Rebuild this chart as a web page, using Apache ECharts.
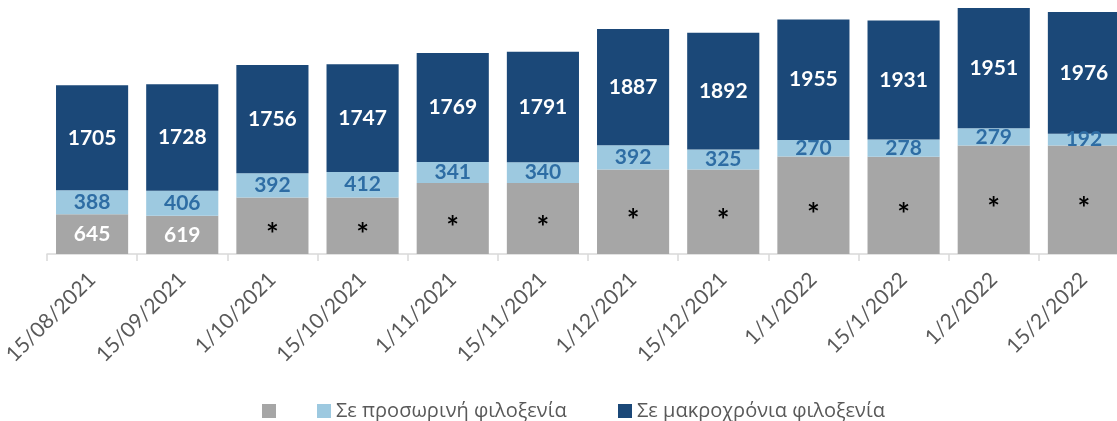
<!DOCTYPE html>
<html>
<head>
<meta charset="utf-8">
<script src="https://cdn.jsdelivr.net/npm/echarts@6/dist/echarts.min.js"></script>
<style>
html,body{margin:0;padding:0;background:#fff;}
#chart{width:1117px;height:421px;}
</style>
</head>
<body>
<div id="chart"></div>
<script>
var categories = ['15/08/2021','15/09/2021','1/10/2021','15/10/2021','1/11/2021','15/11/2021','1/12/2021','15/12/2021','1/1/2022','15/1/2022','1/2/2022','15/2/2022'];
// grey series: only first two values are published; the rest are shown as "*" (heights)
var greyValues = [645, 619, 918, 918, 1150, 1150, 1370, 1370, 1580, 1578, 1760, 1758];
var greyLabels = ['645','619','*','*','*','*','*','*','*','*','*','*'];
var tempValues = [388, 406, 392, 412, 341, 340, 392, 325, 270, 278, 279, 192];
var longValues = [1705, 1728, 1756, 1747, 1769, 1791, 1887, 1892, 1955, 1931, 1951, 1976];
var seriesNames = [' ', 'Σε προσωρινή φιλοξενία', 'Σε μακροχρόνια φιλοξενία'];

var chart = echarts.init(document.getElementById('chart'), null, {renderer: 'canvas'});
var numFont = 'Lato, "Open Sans", sans-serif';
var legendCommon = {
  top: 401, itemWidth: 14, itemHeight: 14, icon: 'rect', itemGap: 0, itemTextGap: 4, padding: 0,
  textStyle: {color: '#595959', fontSize: 20, fontFamily: '"Open Sans", "Noto Sans", sans-serif'},
  selectedMode: false
};
chart.setOption({
  animation: false,
  backgroundColor: '#ffffff',
  grid: {left: 47, width: 1082, top: 0, height: 254, outerBoundsMode: 'none', containLabel: false},
  legend: [
    Object.assign({}, legendCommon, {left: 262, data: [seriesNames[0]]}),
    Object.assign({}, legendCommon, {left: 317, data: [seriesNames[1]]}),
    Object.assign({}, legendCommon, {left: 618, data: [seriesNames[2]]})
  ],
  xAxis: {
    type: 'category',
    data: categories,
    boundaryGap: true,
    axisLine: {show: true, lineStyle: {color: '#D9D9D9', width: 1.5}},
    axisTick: {show: true, alignWithLabel: false, length: 7, lineStyle: {color: '#D9D9D9', width: 1.5}},
    axisLabel: {rotate: 45, color: '#595959', fontSize: 21, fontFamily: numFont, margin: 22, interval: 0}
  },
  yAxis: {
    type: 'value', min: 0, max: 4120, show: false,
    splitLine: {show: false}
  },
  series: [
    {
      name: seriesNames[0], type: 'bar', stack: 'total', barCategoryGap: '20%',
      data: greyValues.map(function (v, i) {
        var star = greyLabels[i] === '*';
        return {value: v, label: {color: star ? '#000000' : '#ffffff', fontWeight: star ? 'bold' : 'bold', fontSize: star ? 30 : 21, offset: star ? [0, 10] : [0, 0]}};
      }),
      itemStyle: {color: '#A6A6A6'},
      label: {
        show: true, position: 'inside', fontFamily: numFont, fontWeight: 'bold', fontSize: 21,
        formatter: function (p) { return greyLabels[p.dataIndex]; },
        color: '#ffffff'
      }
    },
    {
      name: seriesNames[1], type: 'bar', stack: 'total', barCategoryGap: '20%',
      data: tempValues,
      itemStyle: {color: '#9DC9E0'},
      label: {show: true, position: 'inside', color: '#2E6DA4', fontFamily: numFont, fontWeight: 'bold', fontSize: 21}
    },
    {
      name: seriesNames[2], type: 'bar', stack: 'total', barCategoryGap: '20%',
      data: longValues,
      itemStyle: {color: '#1B4878'},
      label: {show: true, position: 'inside', color: '#ffffff', fontFamily: numFont, fontWeight: 'bold', fontSize: 21}
    }
  ]
});
</script>
</body>
</html>
